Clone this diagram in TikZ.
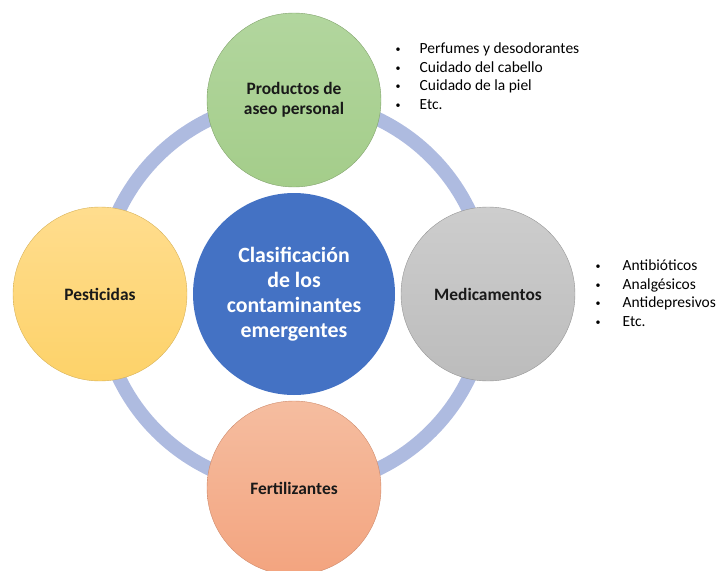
\documentclass[tikz,border=0pt]{standalone}
\usepackage{fontspec}
\setmainfont{Carlito}
\usetikzlibrary{positioning}
\usetikzlibrary{calc}

\definecolor{anillo}{HTML}{AEBBE0}
\definecolor{azul}{HTML}{4472C4}
\definecolor{verdeA}{HTML}{B2D69E}
\definecolor{verdeB}{HTML}{A4CD8A}
\definecolor{grisA}{HTML}{CDCDCD}
\definecolor{grisB}{HTML}{BCBCBC}
\definecolor{amarilloA}{HTML}{FFDD8E}
\definecolor{amarilloB}{HTML}{FDD269}
\definecolor{naranjaA}{HTML}{F5BDA0}
\definecolor{naranjaB}{HTML}{F3A47F}

\newcommand\punto{\raisebox{1pt}{\fontsize{10}{10}\selectfont •}}

\begin{document}
\begin{tikzpicture}[x=1pt, y=-1pt,
    tema/.style = {circle, minimum size=174pt, inner sep=0pt, align=center,
      font=\bfseries\fontsize{17.4}{20.5}\selectfont, text=black!90, line width=0.4pt},
    centro/.style = {circle, minimum size=202pt, inner sep=0pt, fill=azul, text=white,
      align=center, font=\bfseries\fontsize{21.8}{25}\selectfont},
    lista/.style = {anchor=base west, inner sep=0pt, font=\fontsize{15.5}{18.5}\selectfont},
    node distance=194pt,
    ]
    \useasboundingbox (0,0) rectangle (716,571);

    % anillo de fondo
    \coordinate (o) at (294,294);
    \draw[anillo, line width=14pt] (o) circle[radius=194pt];

    \node[centro] (clasif) at (o) {Clasificación\\de los\\contaminantes\\emergentes};

    \node[tema, on grid, above=of clasif, draw=verdeB!80!black, top color=verdeA, bottom color=verdeB] (aseo) {Productos de\\aseo personal};
    \node[tema, on grid, left=of clasif, draw=amarilloB!85!black, top color=amarilloA, bottom color=amarilloB] (pest) {Pesticidas};
    \node[tema, on grid, right=of clasif, draw=grisB!80!black, top color=grisA, bottom color=grisB] (medic) {Medicamentos};
    \node[tema, on grid, below=of clasif, draw=naranjaB!85!black, top color=naranjaA, bottom color=naranjaB] (fert) {Fertilizantes};

    % listas de ejemplos
    \node[lista] (listaAseo) at (395.5,53.5) {\begin{tabular}[t]{@{}l@{\hspace{19pt}}l@{}}
      \punto & Perfumes y desodorantes \\
      \punto & Cuidado del cabello \\
      \punto & Cuidado de la piel \\
      \punto & Etc.
    \end{tabular}};
    \node[lista] (listaMedic) at (595.5,270.5) {\begin{tabular}[t]{@{}l@{\hspace{22pt}}l@{}}
      \punto & Antibióticos \\
      \punto & Analgésicos \\
      \punto & Antidepresivos \\
      \punto & Etc.
    \end{tabular}};

\end{tikzpicture}
\end{document}
